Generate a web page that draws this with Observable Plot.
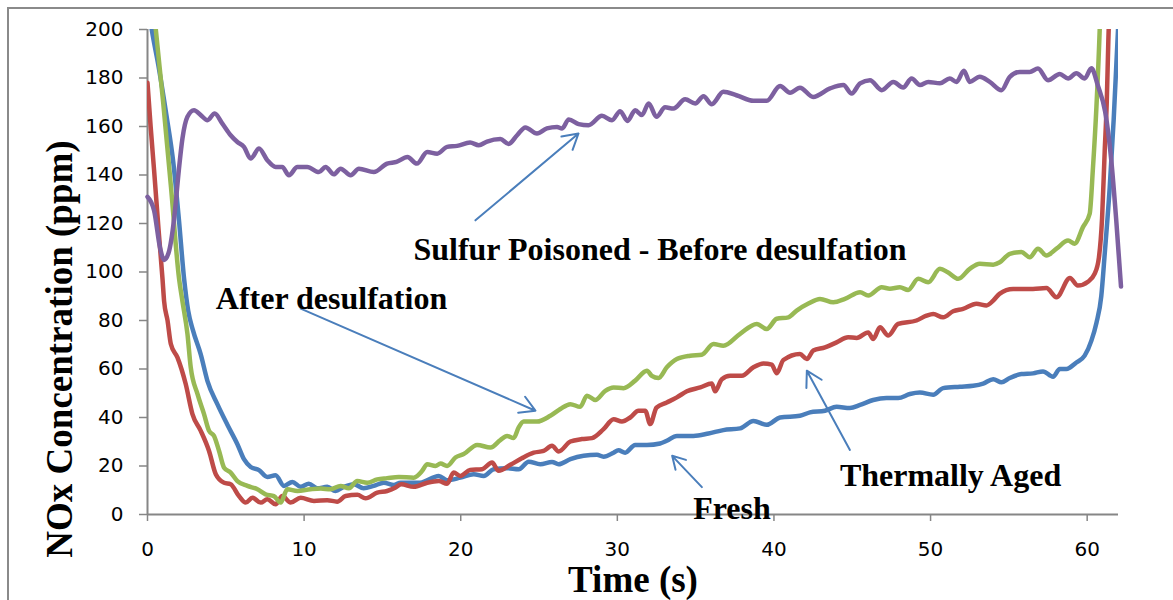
<!DOCTYPE html>
<html><head><meta charset="utf-8">
<script src="https://cdn.jsdelivr.net/npm/d3@7"></script>
<script src="https://cdn.jsdelivr.net/npm/@observablehq/plot@0.6"></script>
<style>
body{margin:0;background:#fff;}
#wrap{position:relative;width:1173px;height:600px;overflow:hidden;}
#frame{position:absolute;left:7px;top:7px;right:-10px;bottom:-10px;border-left:2px solid #8a8a8a;border-top:2px solid #8a8a8a;pointer-events:none;}
</style></head><body><div id="wrap"><div id="frame"></div></div>
<script>
// [time (s), NOx (ppm)]
const fresh = [[0,212],[0.27,200],[0.7,185],[1.2,165],[1.65,145],[2.0,122],[2.34,97],[2.6,84],[2.9,76],[3.4,66],[3.83,55],[4.46,45.5],[5.1,37],[5.74,29],[6.16,22.8],[6.59,19.6],[7.12,18.3],[7.65,15.5],[8.18,16.2],[8.71,11.8],[9.25,13.4],[9.78,11.4],[10.3,12.7],[10.84,10.8],[11.48,11.4],[12.0,9.7],[12.54,11.4],[13.18,12.5],[13.8,10.8],[14.45,11.8],[15.09,13.1],[15.73,12.2],[16.16,13.1],[17.4,13.1],[18.6,15.9],[19.13,14.1],[19.98,15.2],[20.83,16.6],[21.47,15.9],[22.1,18.7],[22.96,19.1],[23.7,18.7],[24.34,21.8],[25.08,20.7],[25.83,21.7],[26.25,20.7],[27.0,22.8],[27.85,24.2],[28.7,24.6],[29.12,23.8],[29.76,25.5],[30.07,26.5],[30.5,25.5],[31.14,28.7],[31.89,28.7],[32.73,29.3],[33.16,30.4],[33.8,32.4],[34.86,32.4],[35.82,33.4],[36.77,34.8],[37.84,35.5],[38.69,38.6],[39.54,37],[40.39,40],[41.66,40.7],[42.3,42.1],[43.26,42.8],[44,44.4],[44.85,43.9],[45.5,45.2],[46.34,47.2],[47.19,48],[47.93,48],[48.68,49.7],[49.32,50.3],[50.17,49.4],[50.8,52.1],[51.87,52.7],[52.72,53.1],[53.36,54],[54,55.8],[54.53,54.5],[55.06,56.3],[55.8,57.9],[56.54,58.2],[57.18,59],[57.82,56.8],[58.25,60],[58.67,60],[59.31,62.7],[59.84,65.5],[60.27,71.7],[60.59,79],[60.9,90],[61.12,107.5],[61.44,135],[61.69,162.6],[61.97,200],[62.05,210]];
const thermallyAged = [[0,178],[0.2,160],[0.42,142],[0.7,118],[0.96,97],[1.06,88],[1.28,80],[1.49,70.3],[1.91,64.8],[2.44,53.8],[2.87,41.4],[3.4,34.5],[3.93,26.2],[4.36,16.6],[4.89,13.1],[5.31,12.5],[5.84,7.6],[6.27,4.9],[6.7,6.9],[7.23,4.9],[7.65,6.3],[8.18,4.2],[8.61,7.6],[9.14,4.9],[9.78,6.9],[10.63,5.6],[11.48,5.9],[12.11,5.3],[12.65,7.6],[13.4,8.1],[13.92,6.7],[14.67,9],[15.3,9.7],[15.84,11.1],[16.2,12.5],[17,11.4],[17.86,13.1],[18.6,13.8],[19.13,12.7],[19.55,17.3],[19.98,15.9],[20.6,18.4],[21.36,18.7],[22,21.4],[22.42,18],[23.17,20.5],[23.9,23.2],[24.66,25.5],[25.29,26.2],[25.83,28.3],[26.25,26],[27,30.1],[27.74,31.1],[28.38,31.5],[29.12,35.2],[29.76,39.3],[30.29,38.3],[30.82,40],[31.35,42.8],[31.78,42.8],[32.1,37.3],[32.5,44.1],[33.16,46.2],[33.8,48.3],[34.44,50.8],[35.3,52.4],[36.03,54],[36.24,50.8],[36.67,55.8],[37.2,57.2],[37.95,57.2],[38.69,60.7],[39.33,62.3],[39.86,61.8],[40.18,58.2],[40.6,63.7],[41.66,66.2],[42.1,64.1],[42.51,67.6],[43.26,68.9],[44,71],[44.74,73.1],[45.28,72.8],[46.02,75.1],[46.34,72.4],[46.77,77.2],[47.3,73.8],[47.93,78.6],[49.1,80],[49.74,82],[50.17,82.7],[50.8,81.3],[51.44,83.8],[52.08,84.8],[52.93,86.9],[53.57,86.2],[54,88.2],[54.4,91],[55.27,93],[56.54,93],[57.4,93.4],[58.04,89.6],[58.9,97.5],[59.4,94.4],[60.05,96],[60.48,99.3],[60.75,106],[60.95,122],[61.12,150],[61.25,170],[61.35,195],[61.42,210]];
const afterDesulfation = [[0,238],[0.53,200],[1.0,170],[1.5,135],[2.02,97],[2.23,88],[2.55,74.5],[2.76,60.7],[3.19,49.7],[3.61,41.4],[3.93,34.5],[4.25,32.4],[4.57,26.2],[4.89,19.3],[5.31,17.3],[5.74,13.8],[6.38,11.8],[7.02,10.4],[7.54,8.3],[8.07,7.6],[8.5,4.9],[8.93,10.4],[9.57,9.7],[10.41,10.4],[11.05,10.7],[11.69,10.4],[12.33,11.8],[12.86,10.8],[13.39,13.8],[14.03,13.1],[14.67,14.5],[15.3,15],[16.05,15.5],[17,15.2],[17.54,18],[17.86,20.7],[18.39,20],[18.71,21],[19.13,20],[19.66,23.5],[20.19,24.9],[21.05,28.7],[21.9,27.6],[22.53,30.7],[22.96,32.4],[23.38,31.5],[23.7,35.9],[24.02,38.3],[24.87,38.3],[25.72,40.7],[26.36,43.5],[27,45.5],[27.63,44.4],[28.06,49],[28.59,47.2],[29.23,51],[29.76,52.4],[30.4,52.1],[31.14,55.2],[31.89,59.3],[32.2,57.2],[32.63,56.3],[33.16,60.7],[33.8,64.1],[34.65,65.5],[35.39,65.9],[36.14,70.3],[36.77,69.6],[37.84,74.5],[38.9,78.6],[39.54,76.5],[40.18,80.7],[40.92,81.3],[41.45,84.1],[42.2,87],[42.94,88.9],[43.79,87.5],[44.53,88.9],[45.5,91.7],[46.02,90.3],[46.88,93.7],[47.4,93.1],[48.04,93.7],[48.57,92.6],[49.21,97.2],[49.85,95.8],[50.6,101.3],[51.1,99.9],[51.77,97.2],[52.5,101.3],[53.14,103.4],[54,103],[54.42,104],[55.06,107.5],[55.8,108.2],[56.33,106.1],[56.86,109.6],[57.4,106.8],[58.04,109.6],[58.78,113],[59.2,111.7],[59.73,118.5],[60.16,124],[60.37,143],[60.59,168],[60.8,200],[60.85,210]];
const sulfurPoisoned = [[0,131],[0.42,125.4],[0.8,110],[1.06,105],[1.35,108],[1.7,122],[2.0,142],[2.23,155],[2.55,164],[2.97,166.7],[3.4,164.7],[3.83,162.6],[4.29,165.4],[4.78,161.2],[5.31,156.4],[5.74,153.6],[6.16,151.6],[6.59,146.8],[7.12,150.9],[7.65,146.1],[8.18,143.3],[8.6,143.3],[9.03,139.9],[9.57,143.3],[10.2,143.3],[10.95,141.2],[11.37,143.3],[11.9,140.3],[12.33,142.6],[12.97,139.9],[13.5,142.6],[14.45,141.2],[15.3,144.7],[15.9,145.4],[16.6,147.4],[17.2,144.7],[17.86,149.5],[18.5,148.8],[19.13,151.6],[19.77,152],[20.6,153.4],[21.15,152.3],[21.68,153.8],[22.53,154.8],[23.06,152.8],[23.6,156.4],[24.13,159.6],[24.87,157.1],[25.5,159.2],[26.15,159.8],[26.47,159.2],[26.9,162.9],[27.53,161],[28.16,160.5],[29.02,164.4],[29.66,162.6],[30.18,166.3],[30.65,162.3],[31.14,166.7],[31.57,164.7],[32,169.5],[32.5,164],[33.05,167.9],[33.58,167.4],[34.33,171.2],[34.97,169.5],[35.5,172.5],[36.03,169.2],[36.77,174.3],[37.6,172.9],[38.69,170.6],[39.54,170.6],[40.39,176.7],[41.03,173.9],[41.66,176],[42.5,172.2],[43.58,175.7],[44.43,177.1],[44.96,173.6],[45.5,177.8],[46.13,179.1],[46.88,175],[47.62,178.4],[48.25,176.1],[48.79,179.8],[49.32,177.1],[49.85,178.4],[50.6,177.8],[51.23,179.8],[51.66,178.4],[52.13,183],[52.5,178.4],[53.14,180.5],[53.78,178.4],[54.53,175],[55.06,180.5],[55.7,182.5],[56.33,182.5],[56.86,183.9],[57.5,179.1],[58.25,181.6],[58.78,179.8],[59.31,182],[59.84,179.8],[60.27,184],[60.69,176.7],[61.15,166],[61.54,146],[61.86,121],[62.16,94]];

const xTicks = [0, 10, 20, 30, 40, 50, 60];
const yTicks = [0, 20, 40, 60, 80, 100, 120, 140, 160, 180, 200];

// annotation labels: [text, time, NOx] (left baseline)
const labels = [
  ["Sulfur Poisoned - Before desulfation", 16.98, 104.8],
  ["After desulfation", 4.36, 84.9],
  ["Thermally Aged", 44.21, 11.8],
  ["Fresh", 34.84, -1.9]
];
// annotation arrows: [fromTime, fromNOx, toTime, toNOx]
const arrows = [
  [20.94, 121.3, 27.52, 157.1],
  [9.78, 84.9, 24.77, 42.8],
  [35.4, 11.3, 33.5, 24.2],
  [44.85, 26.6, 42.1, 59.3]
];

const colors = {fresh: "#4a7ebb", aged: "#be4b48", after: "#98b954", sulfur: "#7d60a0"};
const axisGray = "#868686";
const lineOpts = (c) => ({x: d => d[0], y: d => d[1], stroke: c, strokeWidth: 4.5, strokeLinejoin: "round", strokeLinecap: "round", curve: "monotone-x", clip: true});

const chart = Plot.plot({
  width: 1173, height: 600,
  marginLeft: 147, marginRight: 55, marginTop: 29, marginBottom: 86,
  x: {domain: [0, 62]},
  y: {domain: [0, 200]},
  style: {background: "transparent", color: "#000"},
  marks: [
    Plot.axisY({ticks: yTicks, tickSize: 8, tickPadding: 16, stroke: axisGray, strokeWidth: 1.5, fill: "#000", fontSize: 20, fontFamily: "DejaVu Sans", label: null}),
    Plot.axisX({ticks: xTicks, tickSize: 7, tickPadding: 20, stroke: axisGray, strokeWidth: 1.5, fill: "#000", fontSize: 20, fontFamily: "DejaVu Sans", label: null}),
    Plot.ruleY([0], {stroke: axisGray, strokeWidth: 2}),
    Plot.ruleX([0], {stroke: axisGray, strokeWidth: 2}),
    Plot.line(fresh, lineOpts(colors.fresh)),
    Plot.line(thermallyAged, lineOpts(colors.aged)),
    Plot.line(afterDesulfation, lineOpts(colors.after)),
    Plot.line(sulfurPoisoned, {...lineOpts(colors.sulfur), clip: false}),
    Plot.arrow(arrows, {x1: d => d[0], y1: d => d[1], x2: d => d[2], y2: d => d[3], stroke: "#4a7ebb", strokeWidth: 2, headLength: 13, headAngle: 60}),
    Plot.text(labels, {x: d => d[1], y: d => d[2], text: d => d[0], textAnchor: "start", lineAnchor: "bottom", fontFamily: "Liberation Serif", fontWeight: "bold", fontSize: 32, fill: "#000"}),
    Plot.text(["Time (s)"], {frameAnchor: "bottom", textAnchor: "middle", dy: 66, lineAnchor: "middle", fontFamily: "Liberation Serif", fontWeight: "bold", fontSize: 37, fill: "#000"}),
    Plot.text(["NOx Concentration (ppm)"], {frameAnchor: "left", textAnchor: "middle", dx: -87, dy: 77, rotate: -90, lineAnchor: "middle", fontFamily: "Liberation Serif", fontWeight: "bold", fontSize: 37, fill: "#000"})
  ]
});
document.getElementById("wrap").insertBefore(chart, document.getElementById("frame"));
</script>
</body></html>
